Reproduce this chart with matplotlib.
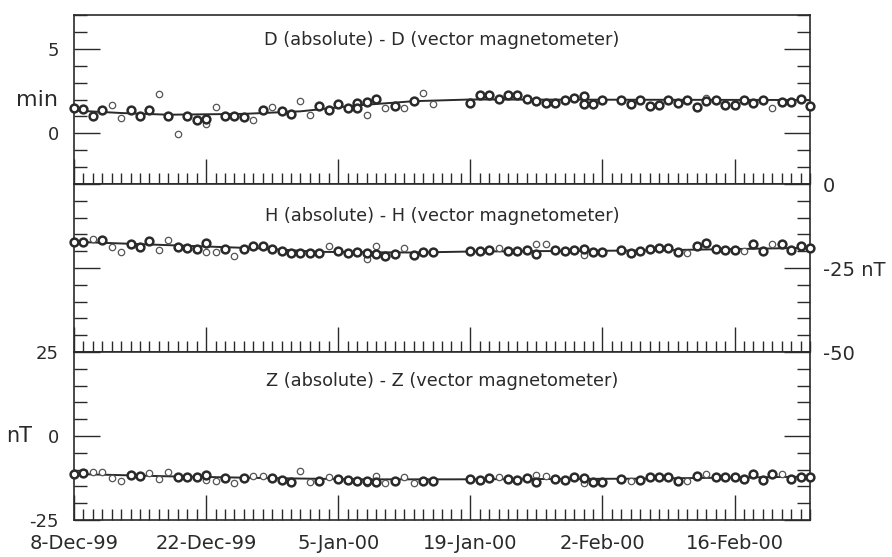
import matplotlib.pyplot as plt
from matplotlib.ticker import FixedLocator, MultipleLocator

plt.rcParams['font.family'] = ['DejaVu Sans']
plt.rcParams['axes.unicode_minus'] = False

# x axis: day 0 = 8-Dec-99, day 78 = 24-Feb-00
date_ticks = [0, 14, 28, 42, 56, 70]
date_labels = ['8-Dec-99', '22-Dec-99', '5-Jan-00', '19-Jan-00', '2-Feb-00', '16-Feb-00']

# D panel (minutes)
d_bold_day = [0, 1, 2, 3, 6, 7, 8, 10, 12, 13, 14, 16, 17, 18, 20, 22, 23, 26, 27, 28, 29, 30, 30,
              31, 32, 34, 36, 42, 43, 44, 45, 46, 47, 48, 49, 50, 51, 52, 53, 54, 54, 55, 56, 58,
              59, 60, 61, 62, 63, 64, 65, 66, 67, 68, 69, 70, 71, 72, 73, 75, 76, 77, 78]
d_bold_val = [1.5, 1.45, 1.0, 1.35, 1.35, 1.05, 1.35, 1.05, 1.05, 0.8, 0.85, 1.05, 1.05, 0.95, 1.4,
              1.3, 1.15, 1.6, 1.4, 1.75, 1.5, 1.8, 1.5, 1.85, 2.05, 1.6, 1.9, 1.8, 2.25, 2.25, 2.05,
              2.25, 2.25, 2.05, 1.9, 1.8, 1.8, 1.95, 2.1, 2.2, 1.75, 1.75, 2.0, 2.0, 1.75, 2.0, 1.6,
              1.65, 1.95, 1.8, 2.0, 1.55, 1.9, 1.95, 1.65, 1.65, 1.95, 1.8, 1.95, 1.85, 1.85, 2.05, 1.6]
d_thin_day = [4, 5, 9, 11, 14, 15, 19, 21, 24, 25, 31, 33, 35, 37, 38, 67, 74]
d_thin_val = [1.65, 0.9, 2.35, -0.05, 0.55, 1.55, 0.8, 1.55, 1.9, 1.1, 1.1, 1.5, 1.5, 2.4, 1.75, 2.1, 1.5]
d_line_day = [0, 5, 10, 18, 24, 30, 36, 42, 78]
d_line_val = [1.35, 1.2, 1.1, 1.15, 1.3, 1.65, 1.9, 2.0, 1.97]

# H panel (nT)
h_bold_day = [0, 1, 3, 6, 7, 8, 11, 12, 13, 14, 16, 18, 19, 20, 21, 22, 23, 24, 25, 26, 28, 29, 30,
              31, 32, 33, 34, 36, 37, 38, 42, 43, 44, 46, 47, 48, 49, 51, 52, 53, 54, 55, 56, 58,
              59, 60, 61, 62, 63, 64, 66, 67, 68, 69, 70, 72, 73, 75, 76, 77, 78]
h_bold_val = [-17.2, -17.2, -16.7, -17.9, -18.7, -17.0, -18.7, -19.0, -19.2, -17.5, -19.2, -19.2,
              -18.5, -18.5, -19.2, -19.8, -20.6, -20.6, -20.6, -20.4, -19.8, -20.6, -20.2, -20.4,
              -20.8, -21.4, -20.8, -21.1, -20.2, -20.3, -19.9, -19.9, -19.6, -19.9, -19.9, -19.5,
              -20.8, -19.6, -19.9, -19.5, -19.2, -20.2, -20.2, -19.6, -20.6, -19.9, -19.2, -19.0,
              -19.0, -20.2, -18.4, -17.7, -19.2, -19.5, -19.6, -17.9, -19.8, -17.8, -19.6, -18.5, -19.0]
h_thin_day = [2, 4, 5, 9, 10, 14, 15, 17, 27, 31, 32, 35, 45, 49, 50, 54, 65, 71, 74]
h_thin_val = [-16.4, -18.7, -20.3, -19.6, -16.7, -20.2, -20.2, -21.3, -18.5, -22.3, -18.5, -18.9,
              -19.1, -17.9, -17.9, -21.2, -20.4, -19.8, -17.8]
h_line_day = [0, 10, 20, 26, 36, 42, 60, 78]
h_line_val = [-17.2, -18.2, -19.2, -20.2, -20.4, -20.1, -19.8, -19.0]

# Z panel (nT)
z_bold_day = [0, 1, 6, 7, 11, 12, 13, 14, 16, 18, 21, 22, 23, 26, 28, 29, 30, 31, 32, 34, 37, 38,
              42, 43, 44, 46, 47, 48, 49, 51, 52, 53, 54, 55, 56, 58, 60, 61, 62, 63, 64, 66, 68,
              69, 70, 71, 72, 73, 74, 76, 77, 78]
z_bold_val = [-11.3, -10.9, -11.6, -11.9, -12.3, -12.3, -12.3, -11.6, -12.6, -12.6, -12.6, -13.1,
              -13.6, -13.4, -12.9, -13.1, -13.3, -13.3, -13.6, -13.4, -13.3, -13.3, -12.9, -13.1,
              -12.6, -12.9, -13.1, -12.6, -13.6, -12.9, -13.1, -12.3, -12.6, -13.6, -13.6, -12.9,
              -13.1, -12.3, -12.1, -12.1, -13.4, -11.9, -12.3, -12.3, -12.3, -12.9, -11.3, -13.1,
              -11.3, -12.9, -12.3, -12.3]
z_thin_day = [2, 3, 4, 5, 8, 9, 10, 14, 15, 17, 19, 20, 24, 25, 27, 31, 32, 33, 35, 36, 45, 49, 50,
              54, 59, 65, 67, 75]
z_thin_val = [-10.6, -10.6, -12.6, -13.4, -10.9, -12.9, -10.6, -13.1, -13.3, -13.9, -11.9, -11.9,
              -10.3, -13.6, -12.1, -14.1, -11.9, -14.1, -12.1, -13.9, -12.1, -11.6, -11.9, -14.1,
              -13.4, -13.4, -11.3, -11.3]
z_line_day = [0, 10, 20, 30, 40, 60, 78]
z_line_val = [-11.3, -12.0, -12.5, -12.9, -12.9, -12.7, -12.1]

ink = '#2a2a2a'


# draw one panel: line, thin circles, bold circles, ticks
def draw_panel(ax, bold_d, bold_v, thin_d, thin_v, line_d, line_v, title, title_y):
    ax.plot(line_d, line_v, color=ink, linewidth=1.4, zorder=2)
    ax.plot(thin_d, thin_v, linestyle='none', marker='o', markersize=4.6, markeredgewidth=0.9,
            markerfacecolor='white', markeredgecolor='#555555', zorder=3, clip_on=False)
    ax.plot(bold_d, bold_v, linestyle='none', marker='o', markersize=5.6, markeredgewidth=1.8,
            markerfacecolor='white', markeredgecolor=ink, zorder=4, clip_on=False)
    ax.set_xlim(0, 78)
    ax.xaxis.set_major_locator(FixedLocator(date_ticks))
    ax.xaxis.set_minor_locator(MultipleLocator(1))
    ax.tick_params(axis='x', which='both', direction='in', top=False, bottom=True,
                   labelbottom=False, color=ink, width=1.0)
    ax.tick_params(axis='x', which='major', length=18)
    ax.tick_params(axis='x', which='minor', length=8)
    ax.tick_params(axis='y', which='both', direction='in', left=True, right=True,
                   color=ink, width=1.0, labelsize=13, labelcolor=ink)
    ax.tick_params(axis='y', which='major', length=19, pad=11)
    ax.tick_params(axis='y', which='minor', length=9.5)
    for s in ax.spines.values():
        s.set_color(ink)
        s.set_linewidth(1.2)
    ax.text(0.5, title_y, title, transform=ax.transAxes, ha='center', va='center',
            fontsize=12.8, color=ink)


fig = plt.figure(figsize=(8.92, 5.57), dpi=100)
left = 74 / 892
width = (810 - 74) / 892
ax_d = fig.add_axes([left, 1 - 184 / 557, width, 169 / 557])
ax_h = fig.add_axes([left, 1 - 352 / 557, width, 168 / 557])
ax_z = fig.add_axes([left, 1 - 520 / 557, width, 168 / 557])

# D panel
draw_panel(ax_d, d_bold_day, d_bold_val, d_thin_day, d_thin_val, d_line_day, d_line_val,
           'D (absolute) - D (vector magnetometer)', 0.85)
ax_d.set_ylim(-3, 7)
ax_d.yaxis.set_major_locator(FixedLocator([0, 5]))
ax_d.yaxis.set_minor_locator(MultipleLocator(1))
ax_d.text(-0.05, 0.5, 'min', transform=ax_d.transAxes, ha='center', va='center',
          fontsize=16, color=ink)

# H panel, labels on the right
draw_panel(ax_h, h_bold_day, h_bold_val, h_thin_day, h_thin_val, h_line_day, h_line_val,
           'H (absolute) - H (vector magnetometer)', 0.81)
ax_h.set_ylim(-50, 0)
ax_h.yaxis.set_major_locator(FixedLocator([-50, -25, 0]))
ax_h.yaxis.set_minor_locator(MultipleLocator(5))
ax_h.set_yticklabels(['-50', '-25 nT', '0'])
ax_h.tick_params(axis='y', labelleft=False, labelright=True, labelsize=14, pad=9)

# Z panel
draw_panel(ax_z, z_bold_day, z_bold_val, z_thin_day, z_thin_val, z_line_day, z_line_val,
           'Z (absolute) - Z (vector magnetometer)', 0.83)
ax_z.set_ylim(-25, 25)
ax_z.yaxis.set_major_locator(FixedLocator([-25, 0, 25]))
ax_z.yaxis.set_minor_locator(MultipleLocator(5))
ax_z.text(-0.075, 0.5, 'nT', transform=ax_z.transAxes, ha='center', va='center',
          fontsize=15, color=ink)
ax_z.set_xticklabels(date_labels)
ax_z.tick_params(axis='x', labelbottom=True, labelsize=14, pad=10, labelcolor=ink)

fig.savefig('out.png', dpi=100)
